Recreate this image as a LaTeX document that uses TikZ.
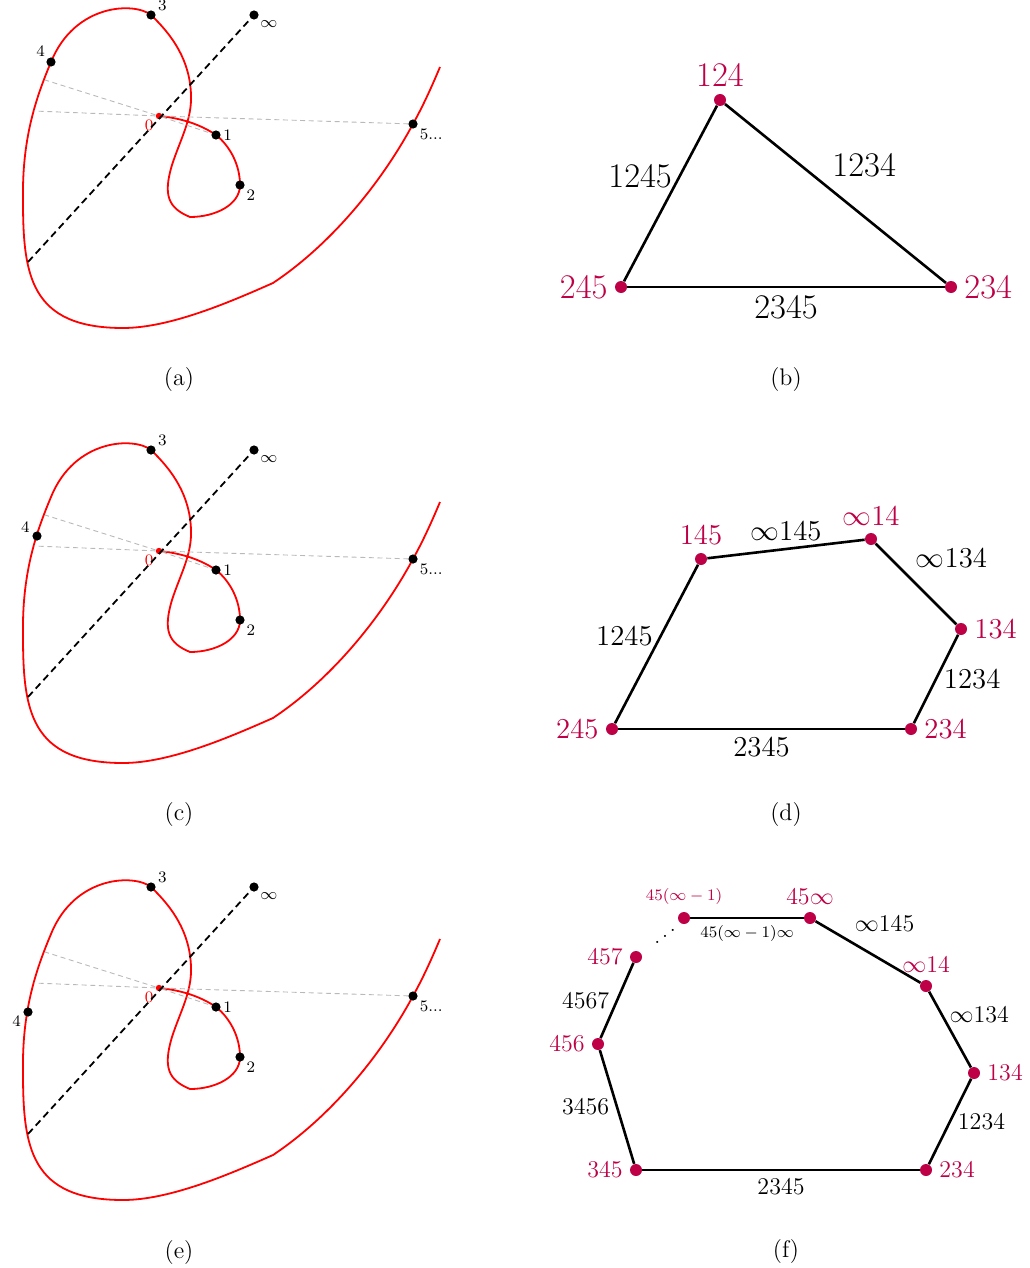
\documentclass[tikz,border=0pt]{standalone}
\usepackage[dvipsnames]{xcolor}
\usepackage{mathtools}
\usepackage{tikz}
\usetikzlibrary{positioning, calc}
\definecolor{accpurple}{HTML}{BE0046}

\begin{document}
\begin{tikzpicture}[
                x=0.5pt, y=-0.5pt,
                curve/.style={draw=red, line width=0.9pt, line join=round},
                pt/.style={circle, fill=black, inner sep=0pt, minimum size=4.6pt},
                origin/.style={circle, fill=red, inner sep=0pt, minimum size=3.2pt},
                ptlabel/.style={font=\footnotesize, inner sep=1pt},
                infline/.style={line width=0.9pt, dash pattern=on 3.5pt off 2.2pt},
                ray/.style={gray!55, line width=0.45pt, dash pattern=on 2.5pt off 1.8pt},
                vtx/.style={circle, fill=accpurple, inner sep=0pt, minimum size=6pt},
                side/.style={line width=1.3pt},
                vlabel/.style={text=accpurple},
                sublabel/.style={font=\large}
            ]
            \useasboundingbox (0,0) rectangle (1029,1268);

            % Kurven (a), (c), (e)
            \foreach \off/\fx/\fy/\fang/\sub in {0/51/62/140/a, 435/37/101/170/c, 872/28/140/200/e} {
                \begin{scope}[shift={(0,\off)}]
                    \draw[curve] (159,116) .. controls (180,118) and (200,124) .. (216,135)
                        .. controls (230,146) and (240,165) .. (240,185)
                        .. controls (240,205) and (215,217) .. (190,217)
                        .. controls (168,208) and (163,195) .. (172,165)
                        .. controls (180,140) and (192,120) .. (191,95)
                        .. controls (190,60) and (172,35) .. (151,15)
                        .. controls (135,2) and (75,3) .. (51,62)
                        .. controls (35,100) and (22,140) .. (23,200)
                        .. controls (23,275) and (30,328) .. (123,328)
                        .. controls (170,328) and (230,302) .. (273,283)
                        .. controls (330,245) and (380,185) .. (413,124)
                        .. controls (424,104) and (432,86) .. (440,67);

                    \coordinate (r1\sub) at (45,80);
                    \coordinate (r2\sub) at (34,111);
                    \coordinate (low\sub) at (28,262);

                    \node[origin, label={[ptlabel, text=red]205:0}] (p0\sub) at (159,116) {};
                    \node[pt, label={[ptlabel]right:1}] (p1\sub) at (216,135) {};
                    \node[pt, label={[ptlabel]-30:2}] (p2\sub) at (240,185) {};
                    \node[pt, label={[ptlabel]15:3}] (p3\sub) at (151,15) {};
                    \node[pt, label={[ptlabel]\fang:4}] (p4\sub) at (\fx,\fy) {};
                    \node[pt, label={[ptlabel]-25:5...}] (p5\sub) at (413,124) {};
                    \node[pt, label={[ptlabel]-35:$\infty$}] (inf\sub) at (254,15) {};

                    \draw[ray] (p0\sub) -- (r1\sub);
                    \draw[ray] (p0\sub) -- (r2\sub);
                    \draw[ray] (p0\sub) -- (p5\sub);
                    \draw[ray] (p0\sub) -- (p1\sub);
                    \draw[infline] (low\sub) -- (inf\sub);

                    \node[sublabel] (cap\sub) at (179,380) {(\sub)};
                \end{scope}
            }

            % (b)
            \begin{scope}[every label/.append style={vlabel, font=\LARGE}, font=\LARGE]
                \node[vtx, label=above:124] (b124) at (720,100) {};
                \node[vtx, label=left:245] (b245) at (621,287) {};
                \node[vtx, label=right:234] (b234) at (951,287) {};
                \draw[side] (b245) -- node[pos=0.6, left] {1245} (b124);
                \draw[side] (b124) -- node[pos=0.45, above right] {1234} (b234);
                \draw[side] (b245) -- node[below] {2345} (b234);
            \end{scope}
            \node[sublabel] (capb) at (786,380) {(b)};

            % (d)
            \begin{scope}[every label/.append style={vlabel, font=\Large}, font=\Large]
                \node[vtx, label=above:145] (d145) at (701,559) {};
                \node[vtx, label=above:$\infty$14] (d14) at (871,539) {};
                \node[vtx, label=right:134] (d134) at (961,629) {};
                \node[vtx, label=right:234] (d234) at (911,729) {};
                \node[vtx, label=left:245] (d245) at (612,729) {};
                \draw[side] (d245) -- node[pos=0.55, left] {1245} (d145);
                \draw[side] (d145) -- node[above] {$\infty$145} (d14);
                \draw[side] (d14) -- node[pos=0.4, above right] {$\infty$134} (d134);
                \draw[side] (d134) -- node[right] {1234} (d234);
                \draw[side] (d245) -- node[below] {2345} (d234);
            \end{scope}
            \node[sublabel] (capd) at (786,815) {(d)};

            % (f)
            \begin{scope}[every label/.append style={vlabel, font=\large}, font=\large]
                \node[vtx, label={[font=\footnotesize]above:$45(\infty-1)$}] (fm1) at (684,918) {};
                \node[vtx, label=above:$45\infty$] (f45) at (810,918) {};
                \node[vtx, label=above:$\infty$14] (f14) at (926,986) {};
                \node[vtx, label=right:134] (f134) at (974,1073) {};
                \node[vtx, label=right:234] (f234) at (926,1170) {};
                \node[vtx, label=left:345] (f345) at (636,1170) {};
                \node[vtx, label=left:456] (f456) at (598,1044) {};
                \node[vtx, label=left:457] (f457) at (636,957) {};
                \node[font=\normalsize] (fdots) at (665,930) {\reflectbox{$\ddots$}};
                \draw[side] (fm1) -- node[below, font=\footnotesize] {$45(\infty-1)\infty$} (f45);
                \draw[side] (f45) -- node[pos=0.3, above right] {$\infty$145} (f14);
                \draw[side] (f14) -- node[pos=0.3, right] {$\infty$134} (f134);
                \draw[side] (f134) -- node[right] {1234} (f234);
                \draw[side] (f345) -- node[below] {2345} (f234);
                \draw[side] (f345) -- node[left] {3456} (f456);
                \draw[side] (f456) -- node[left] {4567} (f457);
            \end{scope}
            \node[sublabel] (capf) at (786,1251) {(f)};

        \end{tikzpicture}
\end{document}
